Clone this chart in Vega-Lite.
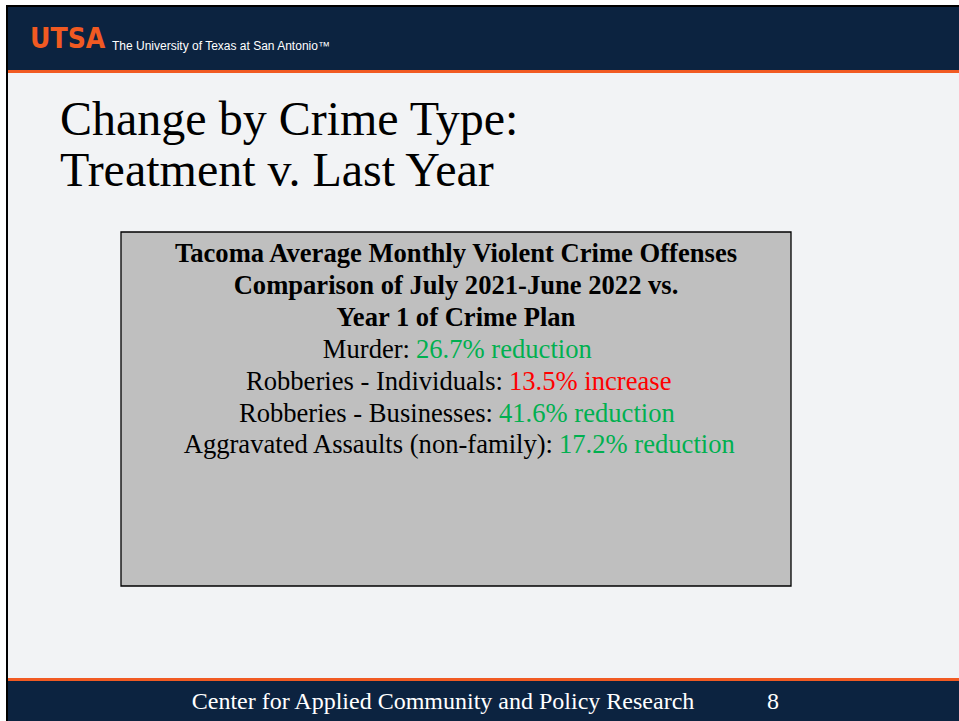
{
  "$schema": "https://vega.github.io/schema/vega-lite/v6.json",
  "width": 959,
  "height": 721,
  "padding": 0,
  "autosize": "none",
  "background": "#ffffff",
  "config": {"view": {"stroke": null}, "axis": {"disable": true}},
  "datasets": {
    "shapes": [
      {"part": "frame", "x": 6, "x2": 959, "y": 5, "y2": 721},
      {"part": "page", "x": 8, "x2": 959, "y": 7, "y2": 721},
      {"part": "navy", "x": 8, "x2": 959, "y": 7, "y2": 70},
      {"part": "orange", "x": 8, "x2": 959, "y": 70, "y2": 73},
      {"part": "orange", "x": 8, "x2": 959, "y": 678, "y2": 681},
      {"part": "navy", "x": 8, "x2": 959, "y": 681, "y2": 721}
    ],
    "box": [{"x": 121, "x2": 791, "y": 232, "y2": 586}],
    "texts": [
      {"role": "logo", "text": "UTSA", "x": 30, "y": 48},
      {"role": "univ", "text": "The University of Texas at San Antonio™", "x": 112, "y": 50},
      {"role": "title", "text": "Change by Crime Type:", "x": 60, "y": 135},
      {"role": "title", "text": "Treatment v. Last Year", "x": 60, "y": 186},
      {"role": "heading", "text": "Tacoma Average Monthly Violent Crime Offenses", "x": 456, "y": 262},
      {"role": "heading", "text": "Comparison of July 2021-June 2022 vs.", "x": 456, "y": 294},
      {"role": "heading", "text": "Year 1 of Crime Plan", "x": 456, "y": 326},
      {"role": "footer", "text": "Center for Applied Community and Policy Research", "x": 443, "y": 709},
      {"role": "footer", "text": "8", "x": 773, "y": 709}
    ],
    "changes": [
      {"crime": "Murder:", "change": "26.7% reduction", "direction": "reduction", "split": 416, "y": 358},
      {"crime": "Robberies - Individuals:", "change": "13.5% increase", "direction": "increase", "split": 509, "y": 389.5},
      {"crime": "Robberies - Businesses:", "change": "41.6% reduction", "direction": "reduction", "split": 499, "y": 421.5},
      {"crime": "Aggravated Assaults (non-family):", "change": "17.2% reduction", "direction": "reduction", "split": 559, "y": 453}
    ]
  },
  "encoding": {
    "x": {"field": "x", "type": "quantitative", "scale": {"domain": [0, 959], "nice": false, "zero": false}, "axis": null},
    "y": {"field": "y", "type": "quantitative", "scale": {"domain": [0, 721], "nice": false, "zero": false, "reverse": true}, "axis": null}
  },
  "resolve": {"scale": {"color": "independent"}},
  "layer": [
    {
      "data": {"name": "shapes"},
      "mark": {"type": "rect"},
      "encoding": {
        "x2": {"field": "x2"},
        "y2": {"field": "y2"},
        "color": {"field": "part", "type": "nominal", "legend": null,
          "scale": {"domain": ["frame", "page", "navy", "orange"], "range": ["#000000", "#f2f3f5", "#0c2340", "#f15a22"]}}
      }
    },
    {
      "data": {"name": "box"},
      "mark": {"type": "rect", "fill": "#bfbfbf", "stroke": "#000000", "strokeWidth": 1.3},
      "encoding": {"x2": {"field": "x2"}, "y2": {"field": "y2"}}
    },
    {
      "data": {"name": "texts"},
      "transform": [{"filter": "datum.role === 'logo'"}],
      "mark": {"type": "text", "align": "left", "baseline": "alphabetic", "font": "Liberation Sans Narrow, DejaVu Sans Condensed, Liberation Sans", "fontWeight": 900, "fontSize": 28, "color": "#f15a22"},
      "encoding": {"text": {"field": "text"}}
    },
    {
      "data": {"name": "texts"},
      "transform": [{"filter": "datum.role === 'univ'"}],
      "mark": {"type": "text", "align": "left", "baseline": "alphabetic", "font": "Liberation Sans", "fontSize": 12, "color": "#ffffff"},
      "encoding": {"text": {"field": "text"}}
    },
    {
      "data": {"name": "texts"},
      "transform": [{"filter": "datum.role === 'title'"}],
      "mark": {"type": "text", "align": "left", "baseline": "alphabetic", "font": "Liberation Serif", "fontSize": 48, "color": "#000000"},
      "encoding": {"text": {"field": "text"}}
    },
    {
      "data": {"name": "texts"},
      "transform": [{"filter": "datum.role === 'heading'"}],
      "mark": {"type": "text", "align": "center", "baseline": "alphabetic", "font": "Liberation Serif", "fontWeight": "bold", "fontSize": 26.6, "color": "#000000"},
      "encoding": {"text": {"field": "text"}}
    },
    {
      "data": {"name": "texts"},
      "transform": [{"filter": "datum.role === 'footer'"}],
      "mark": {"type": "text", "align": "center", "baseline": "alphabetic", "font": "Liberation Serif", "fontSize": 24, "color": "#ffffff"},
      "encoding": {"text": {"field": "text"}}
    },
    {
      "data": {"name": "changes"},
      "mark": {"type": "text", "align": "right", "baseline": "alphabetic", "font": "Liberation Serif", "fontSize": 26.6, "color": "#000000", "dx": -6},
      "encoding": {"x": {"field": "split", "type": "quantitative"}, "text": {"field": "crime"}}
    },
    {
      "data": {"name": "changes"},
      "mark": {"type": "text", "align": "left", "baseline": "alphabetic", "font": "Liberation Serif", "fontSize": 26.6},
      "encoding": {
        "x": {"field": "split", "type": "quantitative"},
        "text": {"field": "change"},
        "color": {"field": "direction", "type": "nominal", "legend": null,
          "scale": {"domain": ["reduction", "increase"], "range": ["#00b050", "#ff0000"]}}
      }
    }
  ]
}
